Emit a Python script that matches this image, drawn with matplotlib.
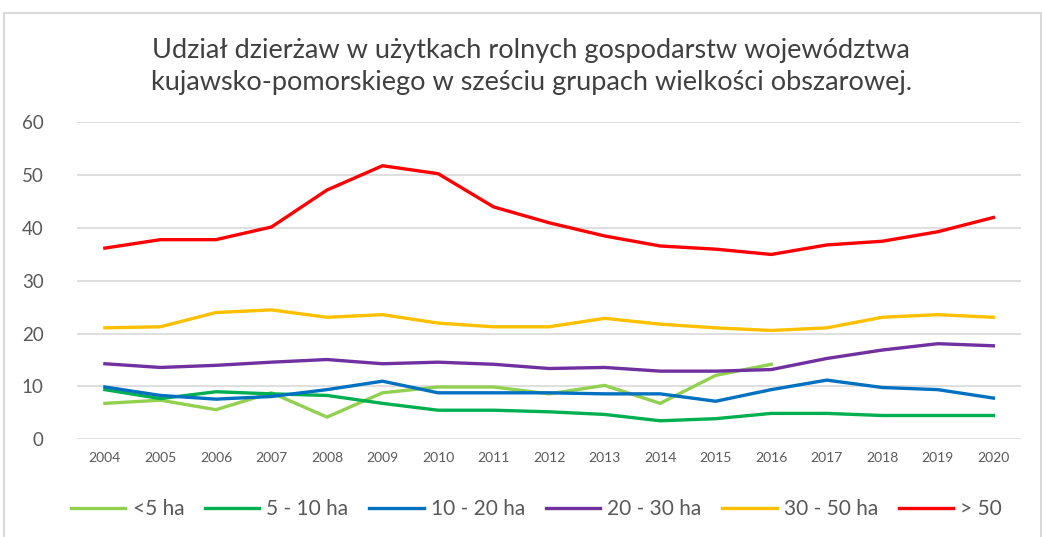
import matplotlib.pyplot as plt
from matplotlib.patches import Rectangle

lata = ['2004', '2005', '2006', '2007', '2008', '2009', '2010', '2011', '2012',
        '2013', '2014', '2015', '2016', '2017', '2018', '2019', '2020']

do5 = [6.8, 7.4, 5.6, 8.8, 4.2, 8.8, 9.9, 9.9, 8.6, 10.2, 6.8, 12.1, 14.2]
od5do10 = [9.4, 7.7, 9.0, 8.6, 8.3, 6.8, 5.5, 5.5, 5.2, 4.7, 3.5, 3.9, 4.9, 4.9, 4.5, 4.5, 4.5]
od10do20 = [9.9, 8.3, 7.6, 8.1, 9.4, 11.0, 8.8, 8.8, 8.8, 8.6, 8.6, 7.2, 9.4, 11.2, 9.8, 9.4, 7.8]
od20do30 = [14.3, 13.6, 14.0, 14.6, 15.1, 14.3, 14.6, 14.2, 13.4, 13.6, 12.9, 12.9, 13.2, 15.3, 16.9, 18.1, 17.7]
od30do50 = [21.1, 21.3, 24.0, 24.5, 23.1, 23.6, 22.0, 21.3, 21.3, 22.9, 21.8, 21.1, 20.6, 21.1, 23.1, 23.6, 23.1]
pow50 = [36.2, 37.8, 37.8, 40.2, 47.2, 51.8, 50.3, 44.0, 41.0, 38.5, 36.6, 36.0, 35.0, 36.8, 37.5, 39.3, 42.0]

serie = [('<5 ha', do5, '#92d050'),
         ('5 - 10 ha', od5do10, '#00b050'),
         ('10 - 20 ha', od10do20, '#0070c0'),
         ('20 - 30 ha', od20do30, '#7030a0'),
         ('30 - 50 ha', od30do50, '#ffc000'),
         ('> 50', pow50, '#ff0000')]

plt.rcParams['font.family'] = ['Lato', 'DejaVu Sans']

fig = plt.figure(figsize=(10.42, 5.37), dpi=100)
fig.patches.append(Rectangle((0.004, -0.01), 0.995, 0.985, transform=fig.transFigure,
                             fill=False, edgecolor='#d9d9d9', linewidth=1.5))

ax = fig.add_axes([0.074, 0.182, 0.906, 0.59])
x = list(range(len(lata)))
for nazwa, wart, kolor in serie:
    ax.plot(x[:len(wart)], wart, color=kolor, linewidth=2.4, label=nazwa)

ax.set_ylim(0, 60)
ax.set_yticks(range(0, 61, 10))
ax.set_xlim(-0.5, len(lata) - 0.5)
ax.set_xticks(x)
ax.set_xticklabels(lata)
ax.grid(axis='y', color='#d9d9d9', linewidth=1.2)
ax.set_axisbelow(True)
for s in ax.spines.values():
    s.set_visible(False)
ax.tick_params(axis='both', length=0, colors='#595959')
ax.tick_params(axis='y', labelsize=13.5, pad=24)
ax.tick_params(axis='x', labelsize=10, pad=9)

fig.text(0.51, 0.877, 'Udział dzierżaw w użytkach rolnych gospodarstw województwa\n'
         'kujawsko-pomorskiego w sześciu grupach wielkości obszarowej.',
         ha='center', va='center', fontsize=19.5, color='#404040', linespacing=1.35)

fig.legend(loc='center', bbox_to_anchor=(0.515, 0.052), ncol=6, frameon=False,
           fontsize=15, handlelength=2.6, handletextpad=0.35, columnspacing=1.0,
           labelcolor='#595959')

fig.savefig('out.png', dpi=100)
